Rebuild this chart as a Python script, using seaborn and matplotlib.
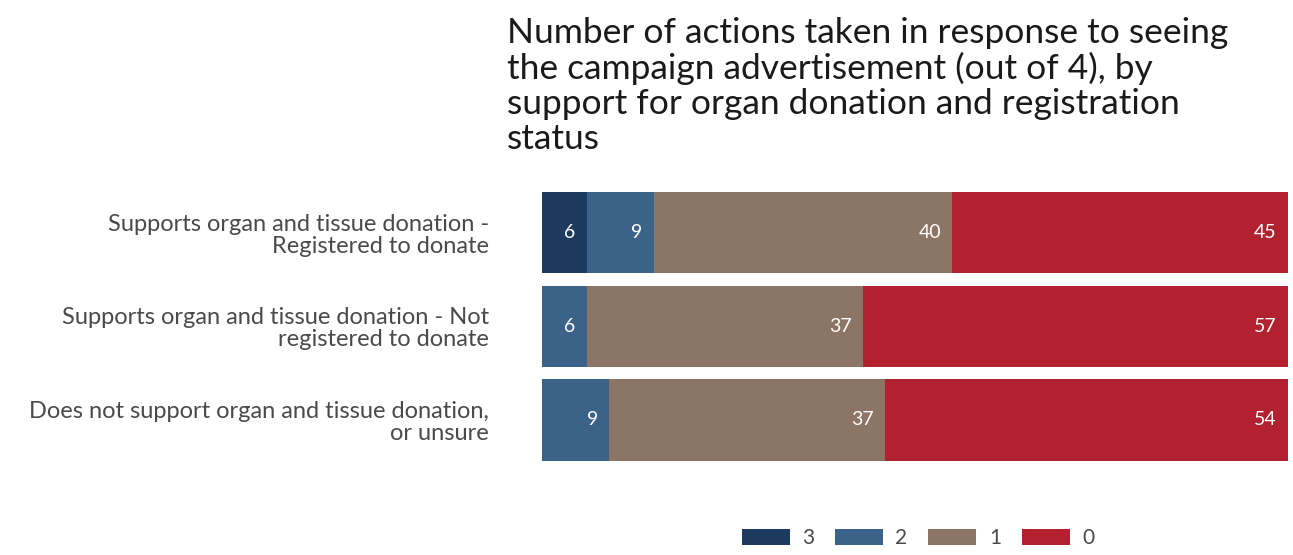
import matplotlib
matplotlib.use("Agg")
import matplotlib.pyplot as plt
from matplotlib.patches import Patch
import seaborn as sns
import pandas as pd

groups = [
    "Supports organ and tissue donation -\nRegistered to donate",
    "Supports organ and tissue donation - Not\nregistered to donate",
    "Does not support organ and tissue donation,\nor unsure",
]
actions_3 = [6, 0, 0]
actions_2 = [9, 6, 9]
actions_1 = [40, 37, 37]
actions_0 = [45, 57, 54]

levels = ["3", "2", "1", "0"]
colors = {"3": "#1c3b5e", "2": "#3d6287", "1": "#8d7566", "0": "#b1212f"}
title = ("Number of actions taken in response to seeing\n"
         "the campaign advertisement (out of 4), by\n"
         "support for organ donation and registration\n"
         "status")

sns.set_theme(style="white")
plt.rcParams["font.family"] = ["Lato", "DejaVu Sans"]

df = pd.DataFrame({"group": groups, "3": actions_3, "2": actions_2,
                   "1": actions_1, "0": actions_0})
# cumulative right edges, left to right: 3, 2, 1, 0
cum = df[levels].cumsum(axis=1)
cum["group"] = df["group"]

fig = plt.figure(figsize=(12.93, 5.55), dpi=100)
ax = fig.add_axes([0.419, 0.159, 0.577, 0.506])

# draw widest stack first so narrower ones sit on top
for lvl in reversed(levels):
    sns.barplot(data=cum, x=lvl, y="group", color=colors[lvl], orient="h",
                width=0.87, saturation=1, linewidth=0, ax=ax)

# value labels at the right end of each segment
for i in range(len(df)):
    for lvl in levels:
        v = df.loc[i, lvl]
        if v <= 0:
            continue
        ax.annotate(str(v), xy=(cum.loc[i, lvl], i), xytext=(-8, 0),
                    textcoords="offset points", ha="right", va="center",
                    color="white", fontsize=14)

ax.set_xlim(0, 100)
ax.set_ylim(2.5, -0.5)
ax.set_xlabel("")
ax.set_ylabel("")
ax.set_xticks([])
ax.tick_params(axis="y", length=0, pad=38, labelsize=17, labelcolor="#4a4a4a")
for lab in ax.get_yticklabels():
    lab.set_horizontalalignment("right")
    lab.set_multialignment("right")
    lab.set_linespacing(1.05)
sns.despine(ax=ax, left=True, bottom=True)

fig.text(0.392, 0.97, title, ha="left", va="top", fontsize=25.5,
         color="#1a1a1a", linespacing=1.12)

handles = [Patch(facecolor=colors[l], edgecolor="none") for l in levels]
fig.legend(handles, levels, loc="center", bbox_to_anchor=(0.71, 0.03),
           ncol=4, frameon=False, fontsize=15, handlelength=2.3,
           handleheight=0.8, handletextpad=0.6, columnspacing=1.0,
           labelcolor="#4a4a4a")

fig.savefig("out.png", dpi=100)
